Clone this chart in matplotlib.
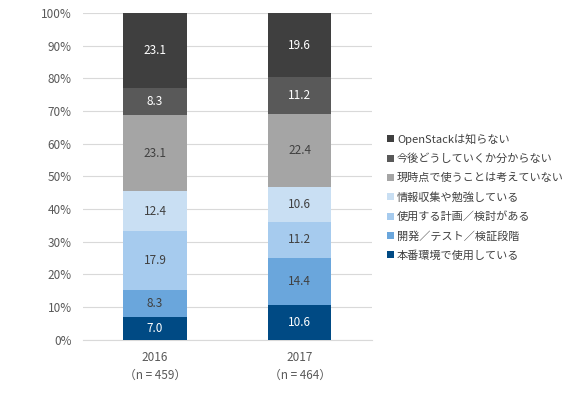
import matplotlib
matplotlib.use("Agg")
import matplotlib.pyplot as plt
import numpy as np

plt.rcParams['font.family'] = ['Noto Sans CJK JP', 'DejaVu Sans']

categories = ["2016\n（n = 459）", "2017\n（n = 464）"]
series_names = [
    "本番環境で使用している",
    "開発／テスト／検証段階",
    "使用する計画／検討がある",
    "情報収集や勉強している",
    "現時点で使うことは考えていない",
    "今後どうしていくか分からない",
    "OpenStackは知らない",
]
values = [
    [7.0, 10.6],
    [8.3, 14.4],
    [17.9, 11.2],
    [12.4, 10.6],
    [23.1, 22.4],
    [8.3, 11.2],
    [23.1, 19.6],
]
colors = ["#004a84", "#6aa6dc", "#a6cbee", "#c9dff3", "#a5a5a5", "#595959", "#3f3f3f"]
text_colors = ["white", "#404040", "#404040", "#404040", "#404040", "white", "white"]

fig = plt.figure(figsize=(5.67, 3.97), dpi=100)
ax = fig.add_axes([0.146, 0.144, 0.51, 0.823])

x = np.arange(len(categories))
bottom = np.zeros(len(categories))
handles = []
for name, vals, c, tc in zip(series_names, values, colors, text_colors):
    vals = np.array(vals)
    b = ax.bar(x, vals, 0.44, bottom=bottom, color=c, label=name, zorder=3)
    handles.append(b)
    for xi, v, bt in zip(x, vals, bottom):
        ax.text(xi, bt + v / 2, f"{v:.1f}", ha="center", va="center",
                color=tc, fontsize=8.5, zorder=4)
    bottom += vals

ax.set_xlim(-0.5, 1.5)
ax.set_ylim(0, 100)
ax.set_yticks(np.arange(0, 101, 10))
ax.set_yticklabels([f"{t}%" for t in range(0, 101, 10)])
ax.set_xticks(x)
ax.set_xticklabels(categories, linespacing=1.5)
ax.yaxis.grid(True, color="#d9d9d9", linewidth=0.8, zorder=0)
for s in ["top", "right", "left"]:
    ax.spines[s].set_visible(False)
ax.spines["bottom"].set_color("#d9d9d9")
ax.tick_params(axis="y", length=0, labelsize=8.5, colors="#595959", pad=8)
ax.tick_params(axis="x", length=0, labelsize=8.5, colors="#595959", pad=8)

leg = fig.legend(handles[::-1], series_names[::-1], loc="upper left",
                 bbox_to_anchor=(0.665, 0.689), frameon=False, fontsize=8,
                 handlelength=0.6, handleheight=0.6, handletextpad=0.3,
                 labelspacing=0.78, labelcolor="#404040")

fig.savefig("out.png", dpi=100)
